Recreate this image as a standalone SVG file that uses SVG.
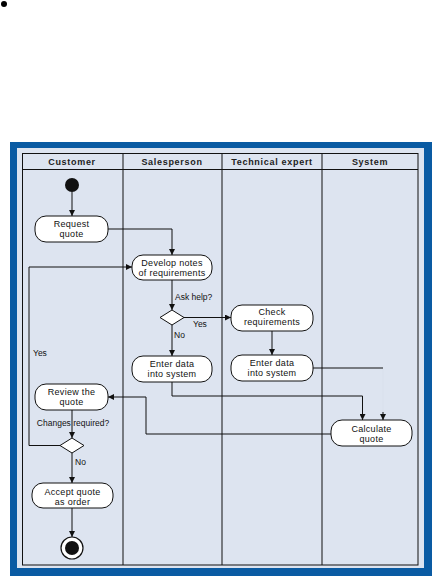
<svg xmlns="http://www.w3.org/2000/svg" width="438" height="581" viewBox="0 0 438 581">
<defs>
<marker id="arr" viewBox="0 0 10 10" refX="10" refY="5" markerWidth="6" markerHeight="6" orient="auto" markerUnits="userSpaceOnUse">
<path d="M0,0 L10,5 L0,10 z" fill="#111"/>
</marker>
<style>
.hdr{font-family:"Liberation Sans",Arial,sans-serif;font-size:9px;font-weight:bold;fill:#222;text-anchor:middle;letter-spacing:0.7px}
.nt{font-family:"Liberation Sans",Arial,sans-serif;font-size:9px;fill:#111;text-anchor:middle;letter-spacing:0.3px}
.lb{font-family:"Liberation Sans",Arial,sans-serif;font-size:8.5px;fill:#111}
.box{fill:#fff;stroke:#111;stroke-width:1}
.ln{fill:none;stroke:#111;stroke-width:1}
.grid{fill:none;stroke:#111;stroke-width:1}
</style>
</defs>
<rect width="438" height="581" fill="#fff"/>
<circle cx="4" cy="4" r="3" fill="#000"/>
<rect x="10" y="142" width="422" height="434" fill="#0a5ba3"/>
<rect x="17" y="148" width="407" height="420" fill="#dde4f0"/>
<g id="swimlanes">
<rect class="grid" x="22.5" y="153.5" width="395.5" height="411.5"/>
<line class="grid" x1="22.5" y1="169.5" x2="418" y2="169.5"/>
<line class="grid" x1="123" y1="153.5" x2="123" y2="565"/>
<line class="grid" x1="222" y1="153.5" x2="222" y2="565"/>
<line class="grid" x1="322" y1="153.5" x2="322" y2="565"/>
<text class="hdr" x="72" y="165">Customer</text>
<text class="hdr" x="172" y="165">Salesperson</text>
<text class="hdr" x="272" y="165">Technical expert</text>
<text class="hdr" x="370" y="165">System</text>
</g>
<g id="connectors">
<path class="ln" d="M72,192 V216" marker-end="url(#arr)"/>
<path class="ln" d="M108,229 H172 V255" marker-end="url(#arr)"/>
<path class="ln" d="M172,280 V310" marker-end="url(#arr)"/>
<path class="ln" d="M184,317.5 H231" marker-end="url(#arr)"/>
<path class="ln" d="M172,325 V356" marker-end="url(#arr)"/>
<path class="ln" d="M272,331 V355" marker-end="url(#arr)"/>
<path class="ln" d="M313,368 H383"/>
<path d="M383,369 V412" fill="none" stroke="#d9e0ec" stroke-width="1"/>
<path class="ln" d="M383,412 V420" marker-end="url(#arr)"/>
<path class="ln" d="M172,382 V396 H362.5 V420" marker-end="url(#arr)"/>
<path class="ln" d="M331,434 H146 V397 H108" marker-end="url(#arr)"/>
<path class="ln" d="M72,410 V438" marker-end="url(#arr)"/>
<path class="ln" d="M60,445.5 H29 V267 H132" marker-end="url(#arr)"/>
<path class="ln" d="M72,453 V483" marker-end="url(#arr)"/>
<path class="ln" d="M72,508 V537" marker-end="url(#arr)"/>
<text class="lb" x="175" y="300">Ask help?</text>
<text class="lb" x="193" y="327">Yes</text>
<text class="lb" x="174" y="338">No</text>
<text class="lb" x="33" y="356">Yes</text>
<text class="lb" x="73" y="426" text-anchor="middle">Changes required?</text>
<text class="lb" x="75" y="465">No</text>
</g>
<g id="start"><circle cx="72" cy="185" r="7" fill="#111"/></g>
<g id="request-quote">
<rect class="box" x="35" y="216" width="73" height="26" rx="11"/>
<text class="nt" x="71.5" y="227">Request</text>
<text class="nt" x="71.5" y="237">quote</text>
</g>
<g id="develop-notes">
<rect class="box" x="132" y="255" width="80" height="25" rx="11"/>
<text class="nt" x="172" y="266">Develop notes</text>
<text class="nt" x="172" y="276">of requirements</text>
</g>
<g id="ask-help-decision"><path class="box" d="M172,310 L184,317.5 L172,325 L160,317.5 z"/></g>
<g id="check-requirements">
<rect class="box" x="231" y="305" width="82" height="26" rx="11"/>
<text class="nt" x="272" y="315">Check</text>
<text class="nt" x="272" y="325">requirements</text>
</g>
<g id="enter-data-sales">
<rect class="box" x="132" y="356" width="80" height="26" rx="11"/>
<text class="nt" x="172" y="367">Enter data</text>
<text class="nt" x="172" y="377">into system</text>
</g>
<g id="enter-data-tech">
<rect class="box" x="231" y="355" width="82" height="26" rx="11"/>
<text class="nt" x="272" y="366">Enter data</text>
<text class="nt" x="272" y="376">into system</text>
</g>
<g id="calculate-quote">
<rect class="box" x="331" y="420" width="81" height="26" rx="11"/>
<text class="nt" x="371.5" y="432">Calculate</text>
<text class="nt" x="371.5" y="442">quote</text>
</g>
<g id="review-quote">
<rect class="box" x="35" y="384" width="73" height="26" rx="11"/>
<text class="nt" x="71.5" y="395">Review the</text>
<text class="nt" x="71.5" y="405">quote</text>
</g>
<g id="changes-decision"><path class="box" d="M72,438 L84,445.5 L72,453 L60,445.5 z"/></g>
<g id="accept-quote">
<rect class="box" x="32" y="483" width="81" height="25" rx="11"/>
<text class="nt" x="72.5" y="495">Accept quote</text>
<text class="nt" x="72.5" y="505">as order</text>
</g>
<g id="end">
<circle cx="72" cy="548" r="11" fill="#fff" stroke="#111" stroke-width="1.2"/>
<circle cx="72" cy="548" r="7" fill="#111"/>
</g>
</svg>
